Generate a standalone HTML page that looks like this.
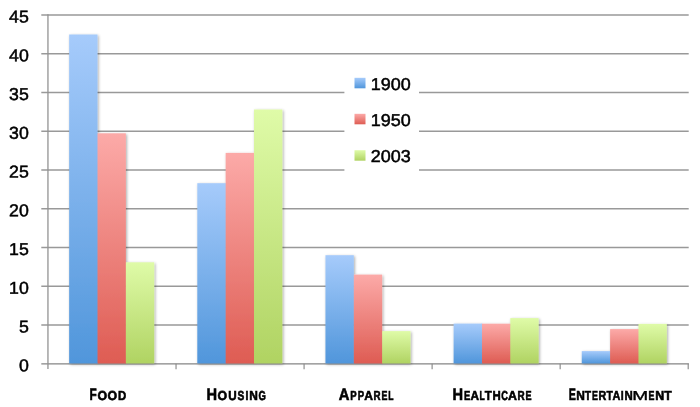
<!DOCTYPE html>
<html><head><meta charset="utf-8"><title>Chart</title>
<style>
html,body{margin:0;padding:0;background:#fff;}
body{width:700px;height:407px;overflow:hidden;}
svg{display:block;opacity:0.999;}
text{font-family:"Liberation Sans",sans-serif;fill:#000;text-rendering:geometricPrecision;}
.yl{font-size:17.2px;text-anchor:end;stroke:#000;stroke-width:0.5px;}
.lg{font-size:17.2px;stroke:#000;stroke-width:0.5px;}
.cat{font-weight:bold;font-size:16px;stroke:#000;stroke-width:0.6px;}
.cat .sc{font-size:12.8px;}
</style></head><body>
<svg width="700" height="407" viewBox="0 0 700 407">
<defs>
<linearGradient id="gb" x1="0" y1="0" x2="0" y2="1"><stop offset="0" stop-color="#a6cbfb"/><stop offset="1" stop-color="#5096db"/></linearGradient>
<linearGradient id="gr" x1="0" y1="0" x2="0" y2="1"><stop offset="0" stop-color="#fcaaa8"/><stop offset="1" stop-color="#de5c53"/></linearGradient>
<linearGradient id="gg" x1="0" y1="0" x2="0" y2="1"><stop offset="0" stop-color="#dffba8"/><stop offset="1" stop-color="#b0d362"/></linearGradient>
<filter id="sh" x="-20%" y="-20%" width="150%" height="140%"><feGaussianBlur in="SourceAlpha" stdDeviation="1.5"/><feOffset dx="1.0" dy="0.8"/><feComponentTransfer><feFuncA type="linear" slope="0.34"/></feComponentTransfer><feMerge><feMergeNode/><feMergeNode in="SourceGraphic"/></feMerge></filter>
</defs>
<rect width="700" height="407" fill="#fff"/>

<g stroke="#999999" stroke-width="1.4" fill="none">
<line x1="41.3" y1="15.00" x2="688.7" y2="15.00"/>
<line x1="41.3" y1="53.75" x2="688.7" y2="53.75"/>
<line x1="41.3" y1="92.50" x2="688.7" y2="92.50"/>
<line x1="41.3" y1="131.25" x2="688.7" y2="131.25"/>
<line x1="41.3" y1="170.00" x2="688.7" y2="170.00"/>
<line x1="41.3" y1="208.75" x2="688.7" y2="208.75"/>
<line x1="41.3" y1="247.50" x2="688.7" y2="247.50"/>
<line x1="41.3" y1="286.25" x2="688.7" y2="286.25"/>
<line x1="41.3" y1="325.00" x2="688.7" y2="325.00"/>
</g>
<rect x="344.4" y="62" width="74.6" height="118" fill="#fff"/>
<line x1="41.3" y1="363.75" x2="688.9" y2="363.75" stroke="#858585" stroke-width="1.25"/>
<defs><linearGradient id="gb0" gradientUnits="userSpaceOnUse" x1="0" y1="34.50" x2="0" y2="363.4"><stop offset="0" stop-color="#a6cbfb"/><stop offset="1" stop-color="#5096db"/></linearGradient><linearGradient id="gr0" gradientUnits="userSpaceOnUse" x1="0" y1="133.30" x2="0" y2="363.4"><stop offset="0" stop-color="#fcaaa8"/><stop offset="1" stop-color="#de5c53"/></linearGradient><linearGradient id="gg0" gradientUnits="userSpaceOnUse" x1="0" y1="262.30" x2="0" y2="363.4"><stop offset="0" stop-color="#dffba8"/><stop offset="1" stop-color="#b0d362"/></linearGradient><linearGradient id="gb1" gradientUnits="userSpaceOnUse" x1="0" y1="183.20" x2="0" y2="363.4"><stop offset="0" stop-color="#a6cbfb"/><stop offset="1" stop-color="#5096db"/></linearGradient><linearGradient id="gr1" gradientUnits="userSpaceOnUse" x1="0" y1="152.90" x2="0" y2="363.4"><stop offset="0" stop-color="#fcaaa8"/><stop offset="1" stop-color="#de5c53"/></linearGradient><linearGradient id="gg1" gradientUnits="userSpaceOnUse" x1="0" y1="109.50" x2="0" y2="363.4"><stop offset="0" stop-color="#dffba8"/><stop offset="1" stop-color="#b0d362"/></linearGradient><linearGradient id="gb2" gradientUnits="userSpaceOnUse" x1="0" y1="255.20" x2="0" y2="363.4"><stop offset="0" stop-color="#a6cbfb"/><stop offset="1" stop-color="#5096db"/></linearGradient><linearGradient id="gr2" gradientUnits="userSpaceOnUse" x1="0" y1="274.60" x2="0" y2="363.4"><stop offset="0" stop-color="#fcaaa8"/><stop offset="1" stop-color="#de5c53"/></linearGradient><linearGradient id="gg2" gradientUnits="userSpaceOnUse" x1="0" y1="331.10" x2="0" y2="363.4"><stop offset="0" stop-color="#dffba8"/><stop offset="1" stop-color="#b0d362"/></linearGradient><linearGradient id="gb3" gradientUnits="userSpaceOnUse" x1="0" y1="323.60" x2="0" y2="363.4"><stop offset="0" stop-color="#a6cbfb"/><stop offset="1" stop-color="#5096db"/></linearGradient><linearGradient id="gr3" gradientUnits="userSpaceOnUse" x1="0" y1="323.70" x2="0" y2="363.4"><stop offset="0" stop-color="#fcaaa8"/><stop offset="1" stop-color="#de5c53"/></linearGradient><linearGradient id="gg3" gradientUnits="userSpaceOnUse" x1="0" y1="318.10" x2="0" y2="363.4"><stop offset="0" stop-color="#dffba8"/><stop offset="1" stop-color="#b0d362"/></linearGradient><linearGradient id="gb4" gradientUnits="userSpaceOnUse" x1="0" y1="351.10" x2="0" y2="363.4"><stop offset="0" stop-color="#a6cbfb"/><stop offset="1" stop-color="#5096db"/></linearGradient><linearGradient id="gr4" gradientUnits="userSpaceOnUse" x1="0" y1="329.10" x2="0" y2="363.4"><stop offset="0" stop-color="#fcaaa8"/><stop offset="1" stop-color="#de5c53"/></linearGradient><linearGradient id="gg4" gradientUnits="userSpaceOnUse" x1="0" y1="323.90" x2="0" y2="363.4"><stop offset="0" stop-color="#dffba8"/><stop offset="1" stop-color="#b0d362"/></linearGradient></defs>
<g filter="url(#sh)">
<rect x="69.16" y="34.50" width="28.35" height="328.90" fill="url(#gb0)"/>
<rect x="97.01" y="133.30" width="1" height="230.10" fill="url(#gb0)"/>
<rect x="97.51" y="133.30" width="28.35" height="230.10" fill="url(#gr0)"/>
<rect x="125.36" y="262.30" width="1" height="101.10" fill="url(#gr0)"/>
<rect x="125.86" y="262.30" width="28.35" height="101.10" fill="url(#gg0)"/>
<rect x="197.31" y="183.20" width="28.35" height="180.20" fill="url(#gb1)"/>
<rect x="225.16" y="183.20" width="1" height="180.20" fill="url(#gb1)"/>
<rect x="225.66" y="152.90" width="28.35" height="210.50" fill="url(#gr1)"/>
<rect x="253.51" y="152.90" width="1" height="210.50" fill="url(#gr1)"/>
<rect x="254.01" y="109.50" width="28.35" height="253.90" fill="url(#gg1)"/>
<rect x="325.46" y="255.20" width="28.35" height="108.20" fill="url(#gb2)"/>
<rect x="353.31" y="274.60" width="1" height="88.80" fill="url(#gb2)"/>
<rect x="353.81" y="274.60" width="28.35" height="88.80" fill="url(#gr2)"/>
<rect x="381.66" y="331.10" width="1" height="32.30" fill="url(#gr2)"/>
<rect x="382.16" y="331.10" width="28.35" height="32.30" fill="url(#gg2)"/>
<rect x="453.61" y="323.60" width="28.35" height="39.80" fill="url(#gb3)"/>
<rect x="481.46" y="323.70" width="1" height="39.70" fill="url(#gb3)"/>
<rect x="481.96" y="323.70" width="28.35" height="39.70" fill="url(#gr3)"/>
<rect x="509.81" y="323.70" width="1" height="39.70" fill="url(#gr3)"/>
<rect x="510.31" y="318.10" width="28.35" height="45.30" fill="url(#gg3)"/>
<rect x="581.76" y="351.10" width="28.35" height="12.30" fill="url(#gb4)"/>
<rect x="609.61" y="351.10" width="1" height="12.30" fill="url(#gb4)"/>
<rect x="610.11" y="329.10" width="28.35" height="34.30" fill="url(#gr4)"/>
<rect x="637.96" y="329.10" width="1" height="34.30" fill="url(#gr4)"/>
<rect x="638.46" y="323.90" width="28.35" height="39.50" fill="url(#gg4)"/>
</g>
<g stroke="#8a8a8a" stroke-width="1.4" fill="none">
<line x1="47.95" y1="14.30" x2="47.95" y2="369" stroke="#939393" stroke-width="1.3"/>
<line x1="176.04" y1="363.75" x2="176.04" y2="369.2" stroke-width="1.15"/>
<line x1="304.08" y1="363.75" x2="304.08" y2="369.2" stroke-width="1.15"/>
<line x1="432.12" y1="363.75" x2="432.12" y2="369.2" stroke-width="1.15"/>
<line x1="560.16" y1="363.75" x2="560.16" y2="369.2" stroke-width="1.15"/>
<line x1="688.20" y1="363.75" x2="688.20" y2="369.2" stroke-width="1.15"/>
</g>
<g transform="translate(28.8,22.45) rotate(0.03) scale(1.03,1)"><text class="yl" x="0" y="0">45</text></g>
<g transform="translate(28.8,61.20) rotate(0.03) scale(1.03,1)"><text class="yl" x="0" y="0">40</text></g>
<g transform="translate(28.8,99.95) rotate(0.03) scale(1.03,1)"><text class="yl" x="0" y="0">35</text></g>
<g transform="translate(28.8,138.70) rotate(0.03) scale(1.03,1)"><text class="yl" x="0" y="0">30</text></g>
<g transform="translate(28.8,177.45) rotate(0.03) scale(1.03,1)"><text class="yl" x="0" y="0">25</text></g>
<g transform="translate(28.8,216.20) rotate(0.03) scale(1.03,1)"><text class="yl" x="0" y="0">20</text></g>
<g transform="translate(28.8,254.95) rotate(0.03) scale(1.03,1)"><text class="yl" x="0" y="0">15</text></g>
<g transform="translate(28.8,293.70) rotate(0.03) scale(1.03,1)"><text class="yl" x="0" y="0">10</text></g>
<g transform="translate(28.8,332.45) rotate(0.03) scale(1.03,1)"><text class="yl" x="0" y="0">5</text></g>
<g transform="translate(28.8,371.20) rotate(0.03) scale(1.03,1)"><text class="yl" x="0" y="0">0</text></g>
<rect x="354.5" y="77.8" width="11" height="10.5" fill="url(#gb)"/>
<g transform="translate(370.7,89.85) scale(1.045,1)"><text class="lg" x="0" y="0">1900</text></g>
<rect x="354.5" y="113.8" width="11" height="10.5" fill="url(#gr)"/>
<g transform="translate(370.7,125.85) scale(1.045,1)"><text class="lg" x="0" y="0">1950</text></g>
<rect x="354.5" y="150.2" width="11" height="10.5" fill="url(#gg)"/>
<g transform="translate(370.7,162.35) scale(1.045,1)"><text class="lg" x="0" y="0">2003</text></g>
<text class="cat" y="399.55"><tspan x="89.61" font-size="16.5" textLength="7.22" lengthAdjust="spacingAndGlyphs">F</tspan><tspan x="97.59" font-size="13.0" textLength="9.63" lengthAdjust="spacingAndGlyphs">O</tspan><tspan x="107.59" font-size="13.0" textLength="9.63" lengthAdjust="spacingAndGlyphs">O</tspan><tspan x="117.94" font-size="13.0" textLength="8.24" lengthAdjust="spacingAndGlyphs">D</tspan></text>
<text class="cat" y="399.55"><tspan x="206.42" font-size="16.5" textLength="10.56" lengthAdjust="spacingAndGlyphs">H</tspan><tspan x="217.49" font-size="13.0" textLength="9.63" lengthAdjust="spacingAndGlyphs">O</tspan><tspan x="228.20" font-size="13.0" textLength="8.41" lengthAdjust="spacingAndGlyphs">U</tspan><tspan x="237.61" font-size="13.0" textLength="6.79" lengthAdjust="spacingAndGlyphs">S</tspan><tspan x="245.60" font-size="13.0" textLength="2.89" lengthAdjust="spacingAndGlyphs">I</tspan><tspan x="249.30" font-size="13.0" textLength="8.60" lengthAdjust="spacingAndGlyphs">N</tspan><tspan x="258.41" font-size="13.0" textLength="7.38" lengthAdjust="spacingAndGlyphs">G</tspan></text>
<text class="cat" y="399.55"><tspan x="338.73" font-size="16.5" textLength="10.66" lengthAdjust="spacingAndGlyphs">A</tspan><tspan x="350.36" font-size="13.0" textLength="6.36" lengthAdjust="spacingAndGlyphs">P</tspan><tspan x="357.76" font-size="13.0" textLength="6.36" lengthAdjust="spacingAndGlyphs">P</tspan><tspan x="364.20" font-size="13.0" textLength="8.72" lengthAdjust="spacingAndGlyphs">A</tspan><tspan x="373.45" font-size="13.0" textLength="7.05" lengthAdjust="spacingAndGlyphs">R</tspan><tspan x="381.50" font-size="13.0" textLength="5.94" lengthAdjust="spacingAndGlyphs">E</tspan><tspan x="388.23" font-size="13.0" textLength="5.24" lengthAdjust="spacingAndGlyphs">L</tspan></text>
<text class="cat" y="399.55"><tspan x="452.42" font-size="16.5" textLength="10.56" lengthAdjust="spacingAndGlyphs">H</tspan><tspan x="464.07" font-size="13.0" textLength="6.30" lengthAdjust="spacingAndGlyphs">E</tspan><tspan x="470.51" font-size="13.0" textLength="8.50" lengthAdjust="spacingAndGlyphs">A</tspan><tspan x="479.53" font-size="13.0" textLength="5.24" lengthAdjust="spacingAndGlyphs">L</tspan><tspan x="484.77" font-size="13.0" textLength="7.05" lengthAdjust="spacingAndGlyphs">T</tspan><tspan x="492.54" font-size="13.0" textLength="8.23" lengthAdjust="spacingAndGlyphs">H</tspan><tspan x="501.32" font-size="13.0" textLength="6.63" lengthAdjust="spacingAndGlyphs">C</tspan><tspan x="508.09" font-size="13.0" textLength="8.93" lengthAdjust="spacingAndGlyphs">A</tspan><tspan x="517.44" font-size="13.0" textLength="7.17" lengthAdjust="spacingAndGlyphs">R</tspan><tspan x="525.49" font-size="13.0" textLength="6.06" lengthAdjust="spacingAndGlyphs">E</tspan></text>
<text class="cat" y="399.55"><tspan x="568.68" font-size="16.5" textLength="7.13" lengthAdjust="spacingAndGlyphs">E</tspan><tspan x="576.30" font-size="13.0" textLength="8.60" lengthAdjust="spacingAndGlyphs">N</tspan><tspan x="584.68" font-size="13.0" textLength="6.33" lengthAdjust="spacingAndGlyphs">T</tspan><tspan x="592.00" font-size="13.0" textLength="5.94" lengthAdjust="spacingAndGlyphs">E</tspan><tspan x="598.58" font-size="13.0" textLength="7.74" lengthAdjust="spacingAndGlyphs">R</tspan><tspan x="606.48" font-size="13.0" textLength="6.33" lengthAdjust="spacingAndGlyphs">T</tspan><tspan x="612.53" font-size="13.0" textLength="7.86" lengthAdjust="spacingAndGlyphs">A</tspan><tspan x="620.80" font-size="13.0" textLength="2.89" lengthAdjust="spacingAndGlyphs">I</tspan><tspan x="624.54" font-size="13.0" textLength="8.23" lengthAdjust="spacingAndGlyphs">N</tspan><tspan x="632.23" font-size="13.0" textLength="15.94" lengthAdjust="spacingAndGlyphs" font-weight="normal" stroke-width="0.35">M</tspan><tspan x="648.40" font-size="13.0" textLength="5.94" lengthAdjust="spacingAndGlyphs">E</tspan><tspan x="655.17" font-size="13.0" textLength="8.97" lengthAdjust="spacingAndGlyphs">N</tspan><tspan x="664.16" font-size="13.0" textLength="7.47" lengthAdjust="spacingAndGlyphs">T</tspan></text>
</svg></body></html>
